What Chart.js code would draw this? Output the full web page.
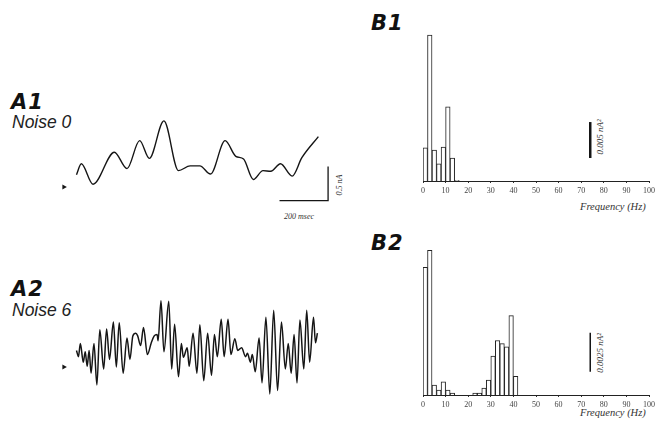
<!DOCTYPE html>
<html>
<head>
<meta charset="utf-8">
<script src="https://cdn.jsdelivr.net/npm/chart.js@4.4.1/dist/chart.umd.min.js"></script>
<style>
  html, body { margin: 0; padding: 0; background: #fff; width: 659px; height: 426px; overflow: hidden; }
  canvas, .txt { position: absolute; }
  .txt { white-space: nowrap; line-height: 1; color: #111; }
  .panel { font: italic bold 21px "DejaVu Sans", sans-serif; letter-spacing: 1px; }
  .noise { font: italic 17.5px "Liberation Sans", Arial, sans-serif; color: #222; }
  .small { font: italic 8px "Liberation Serif", serif; color: #333; }
  .freq { font: italic 10.5px "Liberation Serif", serif; color: #333; }
  .rot { transform: translate(-50%, -50%) rotate(-90deg); }
</style>
</head>
<body>
<div class="txt panel" style="left:11px;top:90px">A1</div>
<div class="txt noise" style="left:12px;top:112px">Noise 0</div>
<div class="txt panel" style="left:11px;top:277px">A2</div>
<div class="txt noise" style="left:12px;top:300px">Noise 6</div>
<div class="txt panel" style="left:371px;top:11px">B1</div>
<div class="txt panel" style="left:371px;top:231px">B2</div>
<div class="txt small" style="left:284px;top:212px">200 msec</div>
<div class="txt small rot" style="left:339px;top:185px">0.5 nA</div>
<div class="txt small rot" style="left:600px;top:137px;font-size:9px">0.005 nA²</div>
<div class="txt small rot" style="left:600px;top:353px;font-size:9px">0.0025 nA²</div>
<div class="txt freq" style="left:580px;top:201px">Frequency (Hz)</div>
<div class="txt freq" style="left:580px;top:407px">Frequency (Hz)</div>

<canvas id="a1" width="280" height="100" style="left:55px;top:108px"></canvas>
<canvas id="a2" width="280" height="122" style="left:55px;top:287px"></canvas>
<canvas id="b1" width="253" height="181" style="left:405px;top:20px"></canvas>
<canvas id="b2" width="253" height="181" style="left:405px;top:234px"></canvas>

<script>
// A1 - membrane current, noise 0 (time in msec, current in nA)
const a1Time = [0, 20, 68, 156, 208, 260, 300, 360, 420, 468, 508, 552, 612, 656, 688,
  728, 768, 800, 840, 888, 928, 996];
const a1Current = [0.18, 0.34, 0.04, 0.51, 0.27, 0.68, 0.42, 0.97, 0.24, 0.31, 0.31, 0.19,
  0.68, 0.45, 0.41, 0.11, 0.24, 0.23, 0.34, 0.16, 0.43, 0.74];

// A2 - membrane current, noise 6
const a2Time = [0, 8, 16, 28, 36, 44, 52, 60, 72, 84, 96, 112, 124, 136, 152, 164, 176, 192,
  208, 220, 232, 244, 252, 264, 276, 292, 308, 320, 332, 336, 348, 360, 380, 392, 404, 420,
  432, 440, 456, 464, 480, 496, 508, 524, 540, 556, 568, 580, 596, 608, 624, 636, 652, 664,
  680, 696, 704, 716, 724, 736, 752, 764, 780, 796, 812, 828, 844, 860, 872, 884, 896, 908,
  920, 936, 948, 960, 976, 984, 992];
const a2Current = [0.24, 0.15, 0.34, 0.07, 0.22, 0.01, 0.24, -0.09, 0.34, -0.26, 0.54, -0.03,
  0.55, 0.11, 0.65, 0, 0.64, -0.09, 0.42, 0.11, 0.45, 0.49, 0.45, 0.31, 0.57, 0.18, 0.35,
  0.45, 0.47, 0.38, 0.96, 0.22, 0.95, -0.03, 0.62, -0.14, 0.34, 0.14, 0.28, 0.01, 0.49, -0.09,
  0.61, -0.2, 0.49, -0.12, 0.47, 0.15, 0.69, 0.15, 0.69, 0.18, 0.41, 0.24, 0.28, 0.15, 0.2,
  0.07, 0.18, -0.07, 0.42, -0.23, 0.72, -0.39, 0.82, -0.34, 0.65, -0.03, 0.34, -0.09, 0.47,
  -0.23, 0.68, -0.03, 0.82, 0.07, 0.72, 0.35, 0.49];

// power spectra, 2 Hz bins from 0 to 100 Hz (nA^2)
const binWidth = 2;
const b1Power = [0.0046, 0.0203, 0.0043, 0.0024, 0.0047, 0.0103, 0.0032, 0.0001];
const b2Power = [0.0082, 0.0093, 0.00064, 0.00032, 0.00084, 0.00032, 0.00013, 0, 0, 0, 0,
  0.00013, 0.00013, 0.00045, 0.00096, 0.0025, 0.0035, 0.0033, 0.0031, 0.0051, 0.0012];
const freqTicks = [0, 10, 20, 30, 40, 50, 60, 70, 80, 90, 100];

const ink = '#151515';
const base = {
    responsive: false,
    animation: false,
    events: [],
    plugins: { legend: { display: false }, tooltip: { enabled: false } }
};

function toPoints(xs, ys) {
    return xs.map((x, i) => ({ x: x, y: ys[i] }));
}

// trace panel: line + arrow at 0 nA, optional scale bar
function traceChart(id, times, values, yMin, yMax, width, scaleBar) {
    const datasets = [{
        data: toPoints(times, values),
        borderColor: ink,
        borderWidth: width,
        pointRadius: 0,
        cubicInterpolationMode: 'monotone'
    }, {
        data: [{ x: -52, y: 0 }],
        showLine: false,
        pointStyle: 'triangle',
        rotation: 90,
        pointRadius: 3,
        backgroundColor: ink,
        borderColor: ink,
        borderWidth: 0
    }];
    if (scaleBar) {
        datasets.push({
            data: scaleBar,
            borderColor: ink,
            borderWidth: 1.3,
            pointRadius: 0,
            tension: 0
        });
    }
    new Chart(document.getElementById(id), {
        type: 'line',
        data: { datasets },
        options: {
            ...base,
            layout: { padding: 0 },
            scales: {
                x: { type: 'linear', min: -72, max: 1048, display: false },
                y: { min: yMin, max: yMax, display: false }
            }
        }
    });
}

// spectrum panel: outlined bars + vertical calibration bar
function spectrumChart(id, power, yMax, calib) {
    const bars = power.map((p, i) => ({ x: i * binWidth + binWidth / 2, y: p }));
    for (let i = power.length; i < 100 / binWidth; i++) {
        bars.push({ x: i * binWidth + binWidth / 2, y: 0 });
    }
    new Chart(document.getElementById(id), {
        type: 'bar',
        data: {
            datasets: [{
                data: bars,
                backgroundColor: '#fff',
                borderColor: '#222',
                borderWidth: 1,
                barPercentage: 1,
                categoryPercentage: 1
            }, {
                type: 'line',
                data: calib.points,
                borderColor: ink,
                borderWidth: calib.width,
                pointRadius: 0
            }]
        },
        options: {
            ...base,
            layout: { padding: { left: 18, right: 8, top: 10, bottom: 0 } },
            scales: {
                x: {
                    type: 'linear',
                    min: 0,
                    max: 100,
                    offset: false,
                    afterBuildTicks: (scale) => { scale.ticks = freqTicks.map(v => ({ value: v })); },
                    afterFit: (scale) => { scale.height = 20; },
                    grid: { display: true, offset: false, drawOnChartArea: false, drawTicks: true, tickLength: 2, color: '#333' },
                    border: { display: true, color: '#222', width: 1 },
                    ticks: { color: '#444', padding: 3, maxRotation: 0, font: { family: 'Liberation Serif', size: 8 } }
                },
                y: { min: 0, max: yMax, display: false }
            }
        }
    });
}

traceChart('a1', a1Time, a1Current, -0.25, 1.101, 1.4,
    [{ x: 836, y: -0.2 }, { x: 1036, y: -0.2 }, { x: 1036, y: 0.3 }]);
traceChart('a2', a2Time, a2Current, -0.55, 1.1, 1.5, null);

spectrumChart('b1', b1Power, 0.021,
    { points: [{ x: 74, y: 0.0032 }, { x: 74, y: 0.0082 }], width: 2.5 });
spectrumChart('b2', b2Power, 0.0097,
    { points: [{ x: 74, y: 0.0015 }, { x: 74, y: 0.0040 }], width: 1.5 });
</script>
</body>
</html>
